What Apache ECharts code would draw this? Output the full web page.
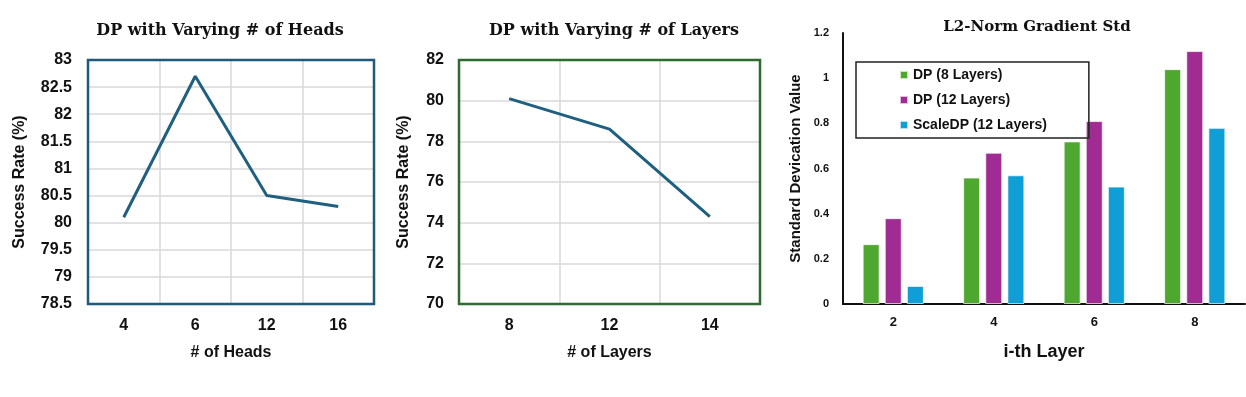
<!DOCTYPE html>
<html>
<head>
<meta charset="utf-8">
<script src="https://cdn.jsdelivr.net/npm/echarts@6/dist/echarts.min.js"></script>
<style>
  html, body { margin: 0; padding: 0; background: #fff; }
  #chart { width: 1246px; height: 397px; }
</style>
</head>
<body>
<div id="chart"></div>
<script>
// ─── Data ───────────────────────────────────────────────────────────────────
const headCategories = ['4', '6', '12', '16'];
const headSuccess = [80.1, 82.7, 80.5, 80.3];

const layerCategories = ['8', '12', '14'];
const layerSuccess = [80.1, 78.6, 74.3];

const stdLayers = ['2', '4', '6', '8'];
const stdDp8 = [0.265, 0.56, 0.72, 1.04];
const stdDp12 = [0.38, 0.67, 0.81, 1.12];
const stdScaleDp12 = [0.08, 0.57, 0.52, 0.78];

// ─── Styles ─────────────────────────────────────────────────────────────────
const SANS = 'Arial, "Liberation Sans", sans-serif';
const SERIF = '"DejaVu Serif", "Liberation Serif", serif';
const LINE_COLOR = '#1f5f80';
const GRID_LINE = { lineStyle: { color: '#d9d9d9', width: 1.5 } };
const tickLabel = { color: '#111', fontFamily: SANS, fontWeight: 'bold', fontSize: 16 };
const axisName = { color: '#111', fontFamily: SANS, fontWeight: 'bold', fontSize: 16 };
const titleStyle = { color: '#111', fontFamily: SERIF, fontWeight: 'bold', fontSize: 16 };

const chart = echarts.init(document.getElementById('chart'), null, { renderer: 'canvas' });

chart.setOption({
  animation: false,
  backgroundColor: '#ffffff',
  title: [
    { text: 'DP with Varying # of Heads', left: 215, top: 18, textAlign: 'center', textStyle: titleStyle },
    { text: 'DP with Varying # of Layers', left: 609, top: 18, textAlign: 'center', textStyle: titleStyle },
    { text: 'L2-Norm Gradient Std', left: 1032, top: 15, textAlign: 'center', textStyle: { ...titleStyle, fontSize: 15 } },
  ],
  legend: {
    data: ['DP (8 Layers)', 'DP (12 Layers)', 'ScaleDP (12 Layers)'],
    orient: 'vertical',
    left: 856,
    top: 62,
    icon: 'rect',
    itemWidth: 8,
    itemHeight: 8,
    itemGap: 11,
    padding: [6, 42, 6, 43],
    borderColor: '#222',
    borderWidth: 1.5,
    textStyle: { color: '#111', fontFamily: SANS, fontWeight: 'bold', fontSize: 14 },
  },
  grid: [
    { left: 88, top: 60, width: 286, height: 244, show: true, z: 10, borderColor: '#1f5a7a', borderWidth: 2.5, backgroundColor: 'transparent' },
    { left: 459, top: 60, width: 301, height: 244, show: true, z: 10, borderColor: '#2e6b2e', borderWidth: 2.5, backgroundColor: 'transparent' },
    { left: 843, top: 33, width: 402, height: 271 },
  ],
  xAxis: [
    {
      gridIndex: 0, type: 'category', data: headCategories, boundaryGap: true,
      name: '# of Heads', nameLocation: 'middle', nameGap: 41, nameTextStyle: axisName,
      axisLine: { show: false }, axisTick: { show: false },
      axisLabel: { ...tickLabel, margin: 14 },
      splitLine: { show: true, ...GRID_LINE },
    },
    {
      gridIndex: 1, type: 'category', data: layerCategories, boundaryGap: true,
      name: '# of Layers', nameLocation: 'middle', nameGap: 41, nameTextStyle: axisName,
      axisLine: { show: false }, axisTick: { show: false },
      axisLabel: { ...tickLabel, margin: 14 },
      splitLine: { show: true, ...GRID_LINE },
    },
    {
      gridIndex: 2, type: 'category', data: stdLayers, boundaryGap: true,
      name: 'i-th Layer', nameLocation: 'middle', nameGap: 39,
      nameTextStyle: { ...axisName, fontSize: 18 },
      axisLine: { show: true, lineStyle: { color: '#111', width: 2 } }, axisTick: { show: false },
      axisLabel: { ...tickLabel, fontSize: 13, margin: 12 },
      splitLine: { show: false },
    },
  ],
  yAxis: [
    {
      gridIndex: 0, type: 'value', min: 78.5, max: 83, interval: 0.5,
      name: 'Success Rate (%)', nameLocation: 'middle', nameGap: 60, nameTextStyle: axisName,
      axisLine: { show: false }, axisTick: { show: false },
      axisLabel: { ...tickLabel, margin: 16 },
      splitLine: { show: true, ...GRID_LINE },
    },
    {
      gridIndex: 1, type: 'value', min: 70, max: 82, interval: 2,
      name: 'Success Rate (%)', nameLocation: 'middle', nameGap: 47, nameTextStyle: axisName,
      axisLine: { show: false }, axisTick: { show: false },
      axisLabel: { ...tickLabel, margin: 15 },
      splitLine: { show: true, ...GRID_LINE },
    },
    {
      gridIndex: 2, type: 'value', min: 0, max: 1.2, interval: 0.2,
      name: 'Standard Devication Value', nameLocation: 'middle', nameGap: 40, nameTextStyle: { ...axisName, fontSize: 15 },
      axisLine: { show: true, lineStyle: { color: '#111', width: 2 } }, axisTick: { show: false },
      axisLabel: { ...tickLabel, fontSize: 11, margin: 14 },
      splitLine: { show: false },
    },
  ],
  series: [
    {
      type: 'line', xAxisIndex: 0, yAxisIndex: 0, data: headSuccess,
      showSymbol: false, lineStyle: { color: LINE_COLOR, width: 3 },
    },
    {
      type: 'line', xAxisIndex: 1, yAxisIndex: 1, data: layerSuccess,
      showSymbol: false, lineStyle: { color: LINE_COLOR, width: 3 },
    },
    {
      name: 'DP (8 Layers)', type: 'bar', xAxisIndex: 2, yAxisIndex: 2, data: stdDp8,
      barWidth: 17, barGap: '30%',
      itemStyle: { color: '#4ea72e', borderColor: 'rgba(255,255,255,0.7)', borderWidth: 1 },
    },
    {
      name: 'DP (12 Layers)', type: 'bar', xAxisIndex: 2, yAxisIndex: 2, data: stdDp12,
      barWidth: 17, barGap: '30%',
      itemStyle: { color: '#a02b93', borderColor: 'rgba(255,255,255,0.7)', borderWidth: 1 },
    },
    {
      name: 'ScaleDP (12 Layers)', type: 'bar', xAxisIndex: 2, yAxisIndex: 2, data: stdScaleDp12,
      barWidth: 17, barGap: '30%',
      itemStyle: { color: '#0f9ed5', borderColor: 'rgba(255,255,255,0.7)', borderWidth: 1 },
    },
  ],
});
</script>
</body>
</html>
